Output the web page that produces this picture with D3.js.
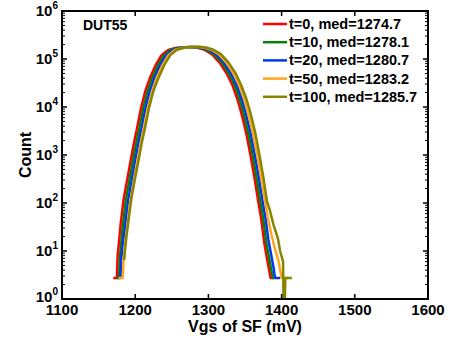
<!DOCTYPE html>
<html><head><meta charset="utf-8">
<script src="https://cdn.jsdelivr.net/npm/d3@7"></script>
<style>body{margin:0;background:#fff}svg{display:block}</style>
</head><body>
<svg id="c" width="463" height="344"></svg>
<script>
// ---- data ----
const seriesLabels = ["t=0, med=1274.7","t=10, med=1278.1","t=20, med=1280.7","t=50, med=1283.2","t=100, med=1285.7"];
const seriesColors = ["#ff0000","#0a800a","#0038f0","#ffa520","#858500"];

const xRed = [1170,1175,1176,1178,1180,1184,1188,1193,1198,1202,1208,1214,1220,1228,1236,1245,1255,1265,1275,1285,1295,1305,1315,1325,1333,1340,1346,1352,1358,1363,1368,1372,1376,1380,1383,1385,1390];
const yRed = [2.75,2.75,8,16,35,115,250,650,1700,3300,9500,22000,40000,75000,120000,155000,170000,176000,178000,172000,155000,125000,85000,50000,28000,14000,6500,2700,900,330,110,48,16,7,4,2.75,2.75];

const xGreen = [1174,1178,1179,1181,1183,1187,1191,1196,1201,1205,1211,1217,1223,1231,1239,1248,1258,1268,1278,1288,1298,1308,1318,1328,1336,1343,1349,1355,1361,1366,1371,1375,1379,1383,1386,1388,1390];
const yGreen = [2.75,2.75,7,15,33,110,240,640,1650,3250,9400,21500,39500,74000,119000,154000,170000,176000,178000,172000,155000,125000,85000,50000,28000,14000,6400,2650,880,320,105,46,15,7,4,2.75,2.75];

const xBlue = [1177,1180,1181,1183,1186,1190,1194,1199,1204,1208,1214,1220,1226,1234,1242,1251,1261,1271,1281,1291,1301,1311,1321,1331,1339,1346,1352,1358,1364,1369,1374,1378,1382,1386,1389,1391,1398];
const yBlue = [2.75,2.75,7,14,32,105,235,630,1650,3200,9300,21500,39500,74000,119000,154000,170000,176000,178000,172000,155000,125000,85000,50000,28000,14000,6500,2700,900,330,110,48,17,8,4.5,2.75,2.75];

const xOrange = [1177,1183,1184,1186,1189,1193,1197,1202,1207,1211,1217,1223,1229,1237,1245,1254,1264,1274,1284,1294,1304,1314,1324,1334,1342,1349,1355,1361,1367,1372,1377,1381,1386,1391,1396,1400,1409];
const yOrange = [2.75,2.75,6,13,30,100,230,620,1600,3200,9200,21000,39000,73000,118000,154000,170000,176000,179000,173000,156000,126000,86000,51000,28500,14500,6800,2800,950,350,120,52,22,11,6,2.75,2.75];

const xOlive = [1185,1186,1188,1191,1195,1199,1204,1209,1213,1219,1225,1232,1240,1248,1257,1267,1277,1287,1297,1307,1317,1327,1337,1345,1352,1358,1364,1370,1375,1380,1384,1389,1395,1398,1402,1403,1404,1405,1414];
const yOlive = [6.5,10,20,45,130,280,700,1800,3400,9800,22000,41000,76000,121000,156000,171000,177000,179000,173000,156000,126000,86000,51000,28000,14500,7000,2900,950,350,110,70,35,18,10,6,0.3,0.3,2.75,2.75];

const seriesX = [xRed,xGreen,xBlue,xOrange,xOlive];
const seriesY = [yRed,yGreen,yBlue,yOrange,yOlive];

const xTicks = [1100,1200,1300,1400,1500,1600];
const yTickExps = [0,1,2,3,4,5,6];
const xTitle = "Vgs of SF (mV)";
const yTitle = "Count";
const panelLabel = "DUT55";

// ---- chart ----
const L=62,R=428,T=11,B=299;
const FONT="'Liberation Sans', Arial, Helvetica, sans-serif";
const svg=d3.select("#c");
const x=d3.scaleLinear().domain([1100,1600]).range([L,R]);
const y=d3.scaleLog().domain([1,1e6]).range([B,T]);

svg.append("clipPath").attr("id","clip").append("rect")
  .attr("x",L).attr("y",T).attr("width",R-L).attr("height",B-T);

const line=d3.line().x(d=>x(d[0])).y(d=>y(d[1]));
const g=svg.append("g").attr("clip-path","url(#clip)");
seriesX.forEach((xs,i)=>{
  const pts=xs.map((v,j)=>[v,seriesY[i][j]]);
  g.append("path").attr("d",line(pts)).attr("fill","none")
   .attr("stroke",seriesColors[i]).attr("stroke-width",2.5)
   .attr("stroke-linejoin","round");
});

// ticks
const tk=svg.append("g").attr("stroke","#000");
xTicks.forEach(v=>{
  tk.append("line").attr("x1",x(v)).attr("x2",x(v)).attr("y1",B).attr("y2",B-5).attr("stroke-width",1.5);
  tk.append("line").attr("x1",x(v)).attr("x2",x(v)).attr("y1",T).attr("y2",T+5).attr("stroke-width",1.5);
});
yTickExps.forEach(e=>{
  const v=Math.pow(10,e);
  tk.append("line").attr("x1",L).attr("x2",L+5).attr("y1",y(v)).attr("y2",y(v)).attr("stroke-width",1.5);
  tk.append("line").attr("x1",R).attr("x2",R-5).attr("y1",y(v)).attr("y2",y(v)).attr("stroke-width",1.5);
  if(e<6){
    for(let k=2;k<=9;k++){
      const m=k*v;
      tk.append("line").attr("x1",L).attr("x2",L+3).attr("y1",y(m)).attr("y2",y(m)).attr("stroke-width",1);
      tk.append("line").attr("x1",R).attr("x2",R-3).attr("y1",y(m)).attr("y2",y(m)).attr("stroke-width",1);
    }
  }
});

// frame
svg.append("rect").attr("x",L).attr("y",T).attr("width",R-L).attr("height",B-T)
  .attr("fill","none").attr("stroke","#000").attr("stroke-width",2);

// x tick labels
svg.append("g").selectAll("text").data(xTicks).join("text")
  .attr("x",d=>x(d)).attr("y",B+16).attr("text-anchor","middle")
  .attr("font-family",FONT).attr("font-weight","bold").attr("font-size",15)
  .text(d=>d);

// y tick labels
yTickExps.forEach(e=>{
  const t=svg.append("text").attr("x",L-4).attr("y",y(Math.pow(10,e))+(e===0?3:5))
    .attr("text-anchor","end").attr("font-family",FONT).attr("font-weight","bold").attr("font-size",15);
  t.append("tspan").text("10");
  t.append("tspan").attr("dy",-7).attr("font-size",10).text(e);
});

// titles
svg.append("text").attr("x",(L+R)/2).attr("y",332).attr("text-anchor","middle")
  .attr("font-family",FONT).attr("font-weight","bold").attr("font-size",16).text(xTitle);
svg.append("text").attr("transform","translate(31,155) rotate(-90)").attr("text-anchor","middle")
  .attr("font-family",FONT).attr("font-weight","bold").attr("font-size",16).text(yTitle);
svg.append("text").attr("x",83).attr("y",30)
  .attr("font-family",FONT).attr("font-weight","bold").attr("font-size",14).text(panelLabel);

// legend
seriesLabels.forEach((lab,i)=>{
  const cy=24+i*18.2;
  svg.append("line").attr("x1",263).attr("x2",287).attr("y1",cy).attr("y2",cy)
    .attr("stroke",seriesColors[i]).attr("stroke-width",2.5);
  svg.append("text").attr("x",289).attr("y",cy+5)
    .attr("font-family",FONT).attr("font-weight","bold").attr("font-size",14.5).text(lab);
});
</script>
</body></html>
